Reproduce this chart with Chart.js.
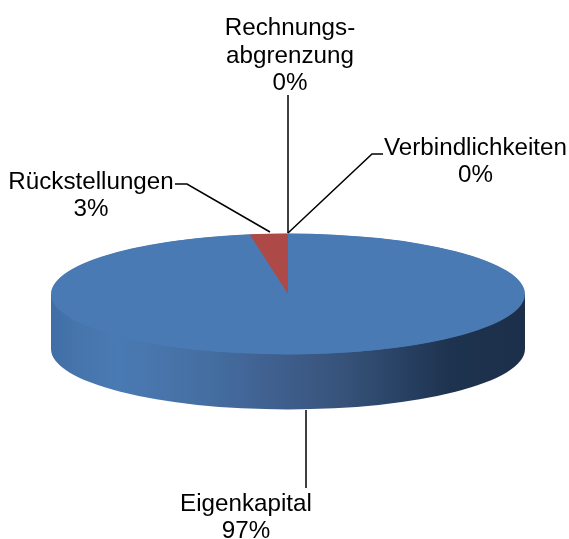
<!DOCTYPE html>
<html lang="de">
<head>
<meta charset="utf-8">
<title>Kapitalstruktur</title>
<script src="https://cdn.jsdelivr.net/npm/chart.js@4"></script>
<style>
    html, body { margin: 0; padding: 0; background: #fff; }
    canvas { display: block; }
</style>
</head>
<body>
<canvas id="pieChart" width="569" height="539"></canvas>
<script>
const sliceNames = ['Eigenkapital', 'Rückstellungen', 'Rechnungsabgrenzung', 'Verbindlichkeiten'];
const sliceValues = [97.4, 2.6, 0, 0];
const sliceColors = ['#4a7ab3', '#ad4a47', '#98b855', '#7d60a0'];
const labelLines = [
    ['Eigenkapital'],
    ['Rückstellungen'],
    ['Rechnungs-', 'abgrenzung'],
    ['Verbindlichkeiten']
];

// squash the round pie into the tilted look, wall height in px
const squash = 60.5 / 237;
const wallHeight = 55;

const labelSpots = [
    { x: 246, y: 511, gap: 27 },
    { x: 91, y: 189, gap: 27 },
    { x: 290, y: 35, gap: 27.5 },
    { x: 475.5, y: 155, gap: 27 }
];
const leaders = [
    [[306, 410], [306, 488]],
    [[175, 184], [187, 184], [270, 232]],
    [[288, 95], [288, 233]],
    [[383, 154], [372, 154], [288, 233]]
];

const tiltPlugin = {
    id: 'tilt',
    beforeDatasetsDraw(chart) {
        const ctx = chart.ctx;
        const arc = chart.getDatasetMeta(0).data[0];
        const cx = arc.x, cy = arc.y, r = arc.outerRadius;

        const grad = ctx.createLinearGradient(cx - r, 0, cx + r, 0);
        grad.addColorStop(0, '#3f6fa6');
        grad.addColorStop(0.05, '#4674ab');
        grad.addColorStop(0.14, '#4a7ab3');
        grad.addColorStop(0.32, '#456fa3');
        grad.addColorStop(0.46, '#406190');
        grad.addColorStop(0.62, '#365279');
        grad.addColorStop(0.76, '#263f60');
        grad.addColorStop(0.84, '#1e334f');
        grad.addColorStop(1, '#1c2f4a');

        ctx.save();
        ctx.fillStyle = grad;
        ctx.beginPath();
        ctx.moveTo(cx - r, cy);
        ctx.lineTo(cx - r, cy + wallHeight);
        ctx.ellipse(cx, cy + wallHeight, r, r * squash, 0, Math.PI, 0, true);
        ctx.lineTo(cx + r, cy);
        ctx.closePath();
        ctx.fill();
        // blue under the slices so no pale seam shows between them
        ctx.fillStyle = sliceColors[0];
        ctx.beginPath();
        ctx.ellipse(cx, cy, r - 1, (r - 1) * squash, 0, 0, Math.PI * 2);
        ctx.fill();
        ctx.restore();

        ctx.save();
        ctx.translate(cx, cy);
        ctx.scale(1, squash);
        ctx.translate(-cx, -cy);
    },
    afterDatasetsDraw(chart) {
        const ctx = chart.ctx;
        ctx.restore();

        ctx.save();
        ctx.strokeStyle = '#000';
        ctx.lineWidth = 1.5;
        leaders.forEach(pts => {
            ctx.beginPath();
            pts.forEach((p, i) => i ? ctx.lineTo(p[0], p[1]) : ctx.moveTo(p[0], p[1]));
            ctx.stroke();
        });

        ctx.fillStyle = '#000';
        ctx.font = '24.2px "Liberation Sans"';
        ctx.textAlign = 'center';
        ctx.textBaseline = 'alphabetic';
        labelLines.forEach((lines, i) => {
            const spot = labelSpots[i];
            const text = lines.concat(Math.round(sliceValues[i]) + '%');
            text.forEach((line, k) => ctx.fillText(line, spot.x, spot.y + k * spot.gap));
        });
        ctx.restore();
    }
};

new Chart(document.getElementById('pieChart').getContext('2d'), {
    type: 'pie',
    data: {
        labels: sliceNames,
        datasets: [{
            data: sliceValues,
            backgroundColor: sliceColors,
            borderWidth: 0
        }]
    },
    options: {
        responsive: false,
        animation: false,
        events: [],
        layout: {
            padding: { left: 51, right: 44, top: 57, bottom: 8 }
        },
        plugins: {
            legend: { display: false },
            tooltip: { enabled: false }
        }
    },
    plugins: [tiltPlugin]
});
</script>
</body>
</html>
